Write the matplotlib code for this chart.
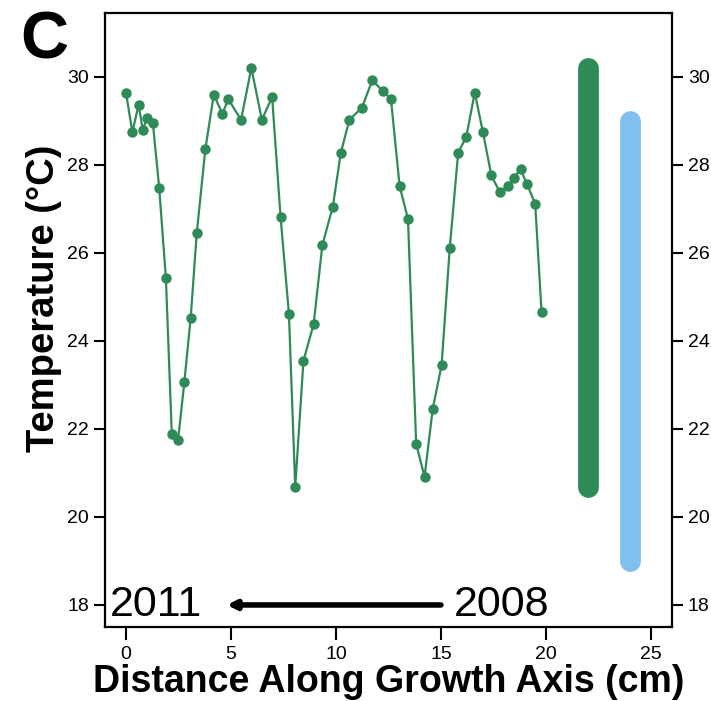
import matplotlib
matplotlib.use("Agg")
import matplotlib.pyplot as plt

# growth-axis profile (cm) and derived temperature (deg C)
dist_cm = [0.0, 0.30, 0.60, 0.80, 1.00, 1.28, 1.58, 1.90, 2.18, 2.48, 2.78, 3.08,
           3.37, 3.78, 4.18, 4.59, 4.87, 5.48, 5.97, 6.47, 6.96, 7.36, 7.76, 8.06,
           8.45, 8.94, 9.35, 9.85, 10.23, 10.64, 11.24, 11.73, 12.22, 12.62, 13.03,
           13.43, 13.82, 14.22, 14.61, 15.03, 15.42, 15.82, 16.21, 16.61, 17.00,
           17.40, 17.80, 18.19, 18.49, 18.79, 19.09, 19.49, 19.79]
temp_c = [29.64, 28.74, 29.36, 28.79, 29.07, 28.94, 27.48, 25.42, 21.89, 21.75,
          23.07, 24.52, 26.45, 28.36, 29.59, 29.16, 29.49, 29.02, 30.20, 29.02,
          29.54, 26.82, 24.61, 20.67, 23.54, 24.39, 26.17, 27.05, 28.27, 29.02,
          29.30, 29.92, 29.68, 29.49, 27.52, 26.77, 21.66, 20.91, 22.46, 23.44,
          26.11, 28.27, 28.64, 29.64, 28.74, 27.76, 27.38, 27.52, 27.71, 27.90,
          27.57, 27.11, 24.66]

# range bars: profile range (green) and instrumental range (blue)
range_x = [22, 24]
range_lo = [min(temp_c), 19.0]
range_hi = [max(temp_c), 29.0]
range_col = ["#2E8B57", "#80C0EE"]

x_ticks = [0, 5, 10, 15, 20, 25]
y_ticks = [18, 20, 22, 24, 26, 28, 30]

GREEN = "#2E8B57"
plt.rcParams["font.family"] = ["Liberation Sans", "DejaVu Sans"]

fig = plt.figure(figsize=(7.11, 7.01), dpi=100)
ax = fig.add_axes([0.1477, 0.1056, 0.7973, 0.876])

ax.plot(dist_cm, temp_c, "-o", color=GREEN, lw=1.6, ms=6.5, mec=GREEN)
for x, lo, hi, c in zip(range_x, range_lo, range_hi, range_col):
    ax.plot([x, x], [lo, hi], color=c, lw=15, solid_capstyle="round")

# growth direction arrow with year labels
ax.annotate("", xy=(4.8, 18), xytext=(15, 18),
            arrowprops=dict(arrowstyle="-|>,head_length=0.5,head_width=0.25",
                            lw=4, color="black", shrinkA=0, shrinkB=0))
ax.text(-0.75, 18, "2011", fontsize=31, va="center", ha="left")
ax.text(15.6, 18, "2008", fontsize=31, va="center", ha="left")

ax.set_xlim(-1, 26)
ax.set_ylim(17.5, 31.45)
ax.set_xticks(x_ticks)
ax.set_yticks(y_ticks)
ax.tick_params(axis="both", labelsize=14, width=1.5, length=8, direction="out")
ax.tick_params(axis="y", right=True, labelright=True)
ax.tick_params(axis="x", length=9.5, pad=4)
for s in ax.spines.values():
    s.set_linewidth(1.6)

ax.set_xlabel("Distance Along Growth Axis (cm)", fontsize=27, fontweight="bold",
              labelpad=1)
ax.set_ylabel("Temperature (\u00b0C)", fontsize=27.5, fontweight="bold")
ax.yaxis.set_label_coords(-0.076, 0.536)

fig.text(0.028, 0.985, "C", fontsize=48, fontweight="bold", va="top", ha="left")

fig.savefig("out.png", dpi=100)
